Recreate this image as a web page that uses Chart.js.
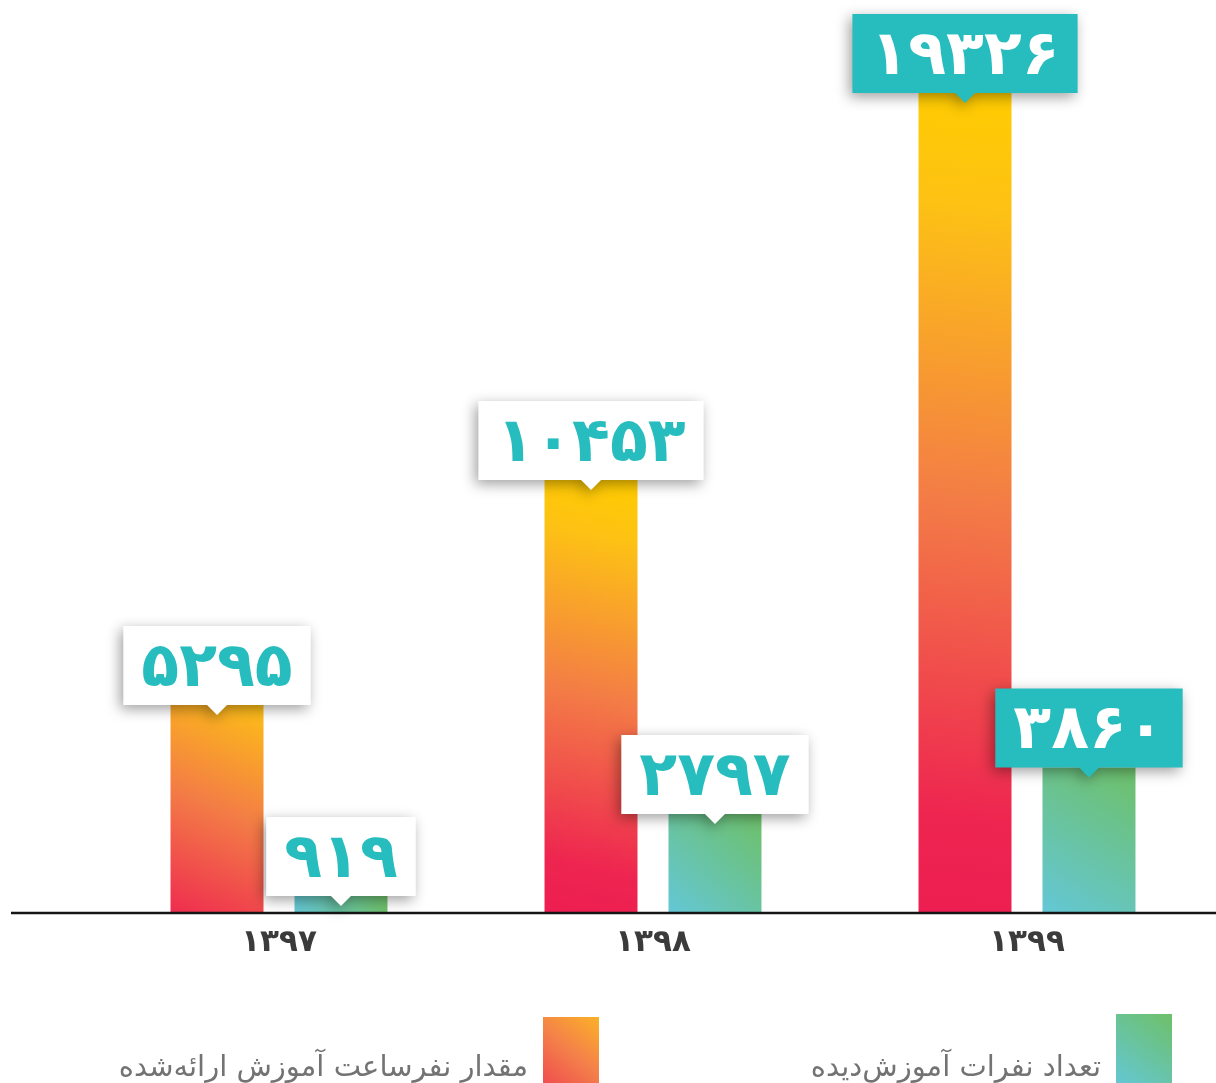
<!DOCTYPE html>
<html lang="fa">
<head>
<meta charset="utf-8">
<title>آموزش ۱۳۹۷ تا ۱۳۹۹</title>
<script src="https://cdn.jsdelivr.net/npm/chart.js@4.4.1/dist/chart.umd.min.js"></script>
<style>
    html, body { margin: 0; padding: 0; background: #ffffff; }
    #wrap { position: relative; width: 1216px; height: 1083px; }
</style>
</head>
<body>
<div id="wrap"><canvas id="chart"></canvas></div>
<script>
// data
const categories = ['۱۳۹۷', '۱۳۹۸', '۱۳۹۹'];
const seriesLabels = ['مقدار نفرساعت آموزش ارائه‌شده', 'تعداد نفرات آموزش‌دیده'];
const hoursValues = [5295, 10453, 19326];
const peopleValues = [919, 2797, 3860];

// styling
const TEAL = '#27BDBE';
const CAT_PCT = 0.663;
const BAR_PCT = 0.75;
const HIGHLIGHT_INDEX = 2;     // last year gets the filled label
const LABEL_FONT = 'bold 62px "DejaVu Sans", sans-serif';
const BOX_PAD_X = 18;
const BOX_H = 79;

const orangeStops = [[0, '#ED1E51'], [0.12, '#EE2550'], [0.5, '#F37C46'], [0.86, '#FDC214'], [1, '#FFCC00']];
const greenStops = [[0, '#64C7D6'], [1, '#6EC068']];

const toFa = n => String(n).replace(/\d/g, d => '۰۱۲۳۴۵۶۷۸۹'[d]);

// per-bar diagonal gradient, bottom-left -> top-right
// short bars only show the middle part of the ramp (minLen)
function barGradient(stops, minLen) {
    return (c) => {
        const chart = c.chart;
        if (!chart.chartArea || c.dataIndex === undefined) return stops[0][1];
        const xs = chart.scales.x, ys = chart.scales.y;
        const catW = xs.width / categories.length;
        const chunk = catW * CAT_PCT / 2;
        const w = chunk * BAR_PCT;
        const cx = xs.getPixelForValue(c.dataIndex) + (c.datasetIndex - 0.5) * chunk;
        const top = ys.getPixelForValue(c.dataset.data[c.dataIndex]);
        const bottom = ys.bottom;
        const cy = (top + bottom) / 2;
        const k = Math.max(bottom - top, minLen) / (bottom - top);
        const g = chart.ctx.createLinearGradient(cx - k * w / 2, cy + k * (bottom - top) / 2,
                                                 cx + k * w / 2, cy - k * (bottom - top) / 2);
        stops.forEach(s => g.addColorStop(s[0], s[1]));
        return g;
    };
}

function flatGradient(ctx, x0, y0, x1, y1, stops) {
    const g = ctx.createLinearGradient(x0, y0, x1, y1);
    stops.forEach(s => g.addColorStop(s[0], s[1]));
    return g;
}

const valueBoxes = {
    id: 'valueBoxes',
    afterDatasetsDraw(chart) {
        const ctx = chart.ctx;
        // baseline
        ctx.save();
        ctx.strokeStyle = '#161616';
        ctx.lineWidth = 2.5;
        ctx.beginPath();
        ctx.moveTo(11, chart.chartArea.bottom + 1);
        ctx.lineTo(chart.width, chart.chartArea.bottom + 1);
        ctx.stroke();
        ctx.restore();

        chart.data.datasets.forEach((ds, di) => {
            chart.getDatasetMeta(di).data.forEach((bar, i) => {
                const text = toFa(ds.data[i]);
                const hl = i === HIGHLIGHT_INDEX;
                ctx.save();
                ctx.font = LABEL_FONT;
                const w = ctx.measureText(text).width + BOX_PAD_X * 2;
                const left = bar.x - w / 2;
                const bottom = bar.y;
                const top = bottom - BOX_H;

                ctx.beginPath();
                ctx.moveTo(left, top);
                ctx.lineTo(left + w, top);
                ctx.lineTo(left + w, bottom);
                ctx.lineTo(bar.x + 10, bottom);
                ctx.lineTo(bar.x, bottom + 10);
                ctx.lineTo(bar.x - 10, bottom);
                ctx.lineTo(left, bottom);
                ctx.closePath();
                ctx.shadowColor = 'rgba(0, 0, 0, 0.38)';
                ctx.shadowBlur = 14;
                ctx.shadowOffsetX = -3;
                ctx.shadowOffsetY = 4;
                ctx.fillStyle = hl ? TEAL : '#ffffff';
                ctx.fill();

                ctx.shadowColor = 'transparent';
                ctx.fillStyle = hl ? '#ffffff' : TEAL;
                ctx.textAlign = 'center';
                ctx.textBaseline = 'middle';
                ctx.fillText(text, bar.x, top + BOX_H / 2 + 4);
                ctx.restore();
            });
        });
    }
};

const legendBoxes = {
    id: 'legendBoxes',
    afterDraw(chart) {
        const ctx = chart.ctx;
        const items = [
            { label: seriesLabels[0], fill: [[0, '#EF4A4E'], [0.5, '#F4804A'], [1, '#FBB128']], box: [543, 1017, 56, 70] },
            { label: seriesLabels[1], fill: greenStops, box: [1116, 1014, 56, 72] }
        ];
        items.forEach(it => {
            const [x, y, w, h] = it.box;
            ctx.save();
            ctx.fillStyle = flatGradient(ctx, x, y + h, x + w, y, it.fill);
            ctx.fillRect(x, y, w, h);
            ctx.font = '29px "DejaVu Sans", sans-serif';
            ctx.fillStyle = '#737373';
            ctx.direction = 'rtl';
            ctx.textAlign = 'right';
            ctx.textBaseline = 'alphabetic';
            ctx.fillText(it.label, x - 15, 1076);
            ctx.restore();
        });
    }
};

new Chart(document.getElementById('chart'), {
    type: 'bar',
    data: {
        labels: categories,
        datasets: [
            { label: seriesLabels[0], data: hoursValues, backgroundColor: barGradient(orangeStops, 300) },
            { label: seriesLabels[1], data: peopleValues, backgroundColor: barGradient(greenStops, 0) }
        ]
    },
    options: {
        responsive: true,
        maintainAspectRatio: false,
        animation: false,
        categoryPercentage: CAT_PCT,
        barPercentage: BAR_PCT,
        layout: { padding: { left: 92, right: 2, top: 20, bottom: 0 } },
        scales: {
            x: {
                grid: { display: false, drawTicks: false },
                border: { display: false },
                ticks: {
                    color: '#3b3b3b',
                    padding: 12,
                    font: { family: '"DejaVu Sans", sans-serif', size: 31, weight: 'bold' }
                },
                afterFit: s => { s.height = 171; }
            },
            y: {
                display: false,
                min: 550,
                max: 21000
            }
        },
        plugins: {
            legend: { display: false },
            tooltip: { enabled: false }
        }
    },
    plugins: [valueBoxes, legendBoxes]
});
</script>
</body>
</html>
